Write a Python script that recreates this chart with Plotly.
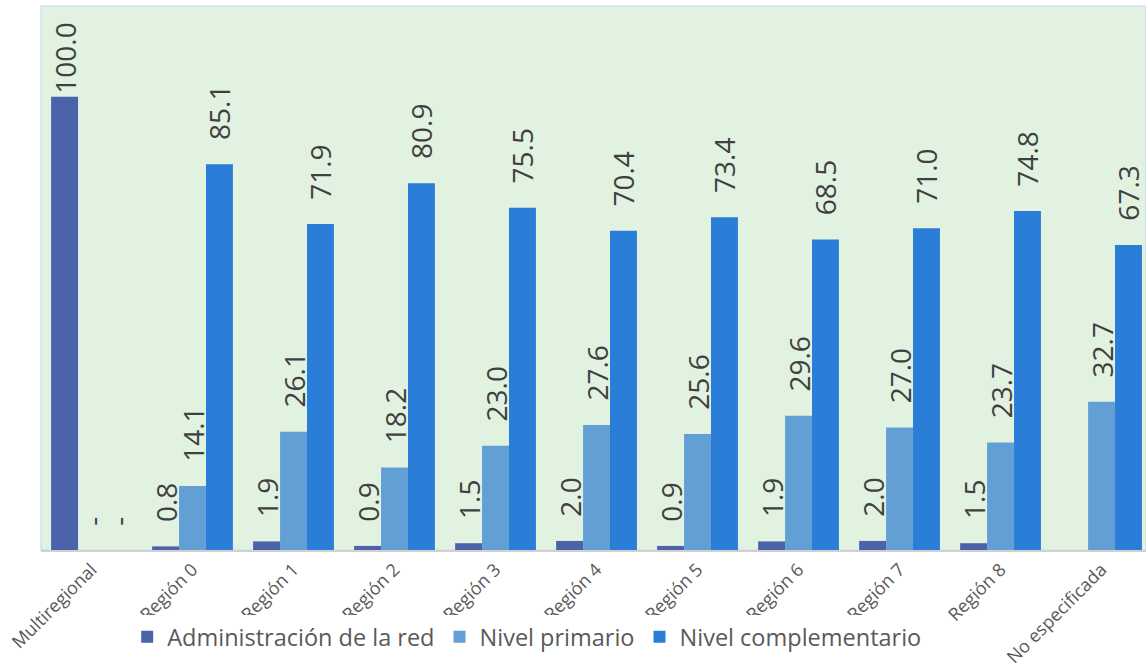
import plotly.graph_objects as go

categories = ["Multiregional", "Región 0", "Región 1", "Región 2", "Región 3", "Región 4",
              "Región 5", "Región 6", "Región 7", "Región 8", "No especificada"]
admin = [100.0, 0.8, 1.9, 0.9, 1.5, 2.0, 0.9, 1.9, 2.0, 1.5, None]
primario = [0, 14.1, 26.1, 18.2, 23.0, 27.6, 25.6, 29.6, 27.0, 23.7, 32.7]
complementario = [0, 85.1, 71.9, 80.9, 75.5, 70.4, 73.4, 68.5, 71.0, 74.8, 67.3]
series_names = ["Administración de la red", "Nivel primario", "Nivel complementario"]
colors = ["#4A63AA", "#629FD4", "#2B7ED8"]

PAD = "\u2002\u00a0"  # gap between bar top and its rotated label

def labels(vals):
    out = []
    for v in vals:
        if v is None:
            out.append("")
        elif v == 0:
            out.append(PAD + "-")
        elif v >= 95:
            out.append(f"{v:.1f}")
        else:
            out.append(PAD + f"{v:.1f}")
    return out

FONT = "Open Sans, Noto Sans, sans-serif"
fig = go.Figure()
for name, vals, col in zip(series_names, [admin, primario, complementario], colors):
    fig.add_trace(go.Bar(
        x=categories, y=vals, name=name, marker=dict(color=col, line=dict(width=0)),
        text=labels(vals), textposition="outside", textangle=-90,
        constraintext="none", cliponaxis=False,
        textfont=dict(size=28, color="#404040", family=FONT),
        hoverinfo="skip",
    ))

fig.update_layout(
    width=1146, height=672,
    margin=dict(l=41, r=0, t=6, b=122, autoexpand=False),
    paper_bgcolor="white", plot_bgcolor="#E2F2E0",
    barmode="group", bargap=0.2, bargroupgap=0,
    font=dict(family=FONT, color="#595959"),
    showlegend=True,
    legend=dict(orientation="h", x=0.44, xanchor="center", y=-0.16, yanchor="middle",
                font=dict(size=23.5, color="#595959", family=FONT),
                itemwidth=30, traceorder="normal"),
    xaxis=dict(type="category", range=[-0.5, 10.44], tickangle=-45,
               tickfont=dict(size=18, color="#595959", family=FONT),
               showline=True, linecolor="#D0D0D0", linewidth=2, ticks="",
               showgrid=False, automargin=False),
    yaxis=dict(range=[0, 120], showticklabels=False, showgrid=False,
               zeroline=False, showline=False, ticks="", automargin=False),
)
fig.add_shape(type="rect", xref="paper", yref="paper", x0=0, x1=1, y0=0, y1=1,
              line=dict(color="#CFE0F5", width=1.5), layer="below")
fig.write_html("out.html", config={"displayModeBar": False},
               post_script="document.body.style.margin='0px';")
